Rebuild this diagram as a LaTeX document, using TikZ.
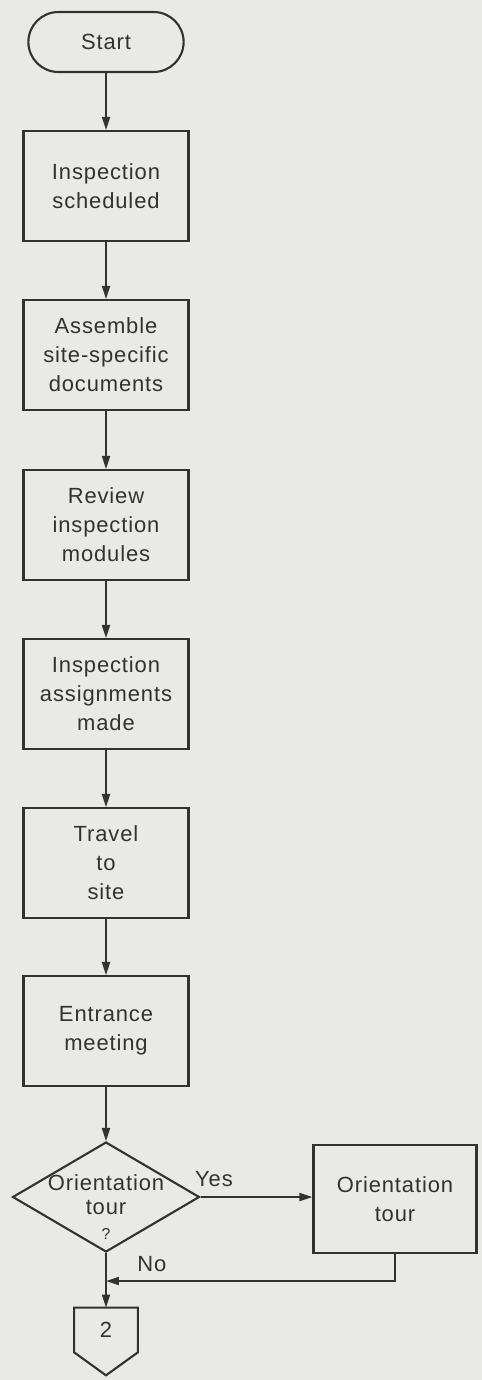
\documentclass[tikz,border=0pt]{standalone}
\usepackage{fontspec}
\setmainfont{Liberation Sans}[LetterSpace=4]
\usetikzlibrary{arrows.meta,positioning,shapes.geometric,shapes.misc,calc}
\definecolor{scanbg}{RGB}{233,233,230}
\definecolor{inkgray}{RGB}{50,50,50}

\begin{document}
\begin{tikzpicture}[
      x=0.02cm, y=-0.02cm,
      every node/.style={font=\fontsize{12.5}{16.5}\selectfont, text=inkgray},
      termbox/.style={
        rounded rectangle, draw=inkgray, line width=1.2pt,
        minimum width=3.34cm, minimum height=1.2cm, align=center
      },
      procbox/.style={
        rectangle, draw=inkgray, line width=1.2pt,
        minimum width=3.3cm, minimum height=2.2cm, align=center
      },
      decbox/.style={
        diamond, draw=inkgray, line width=1.2pt, aspect=1.7, inner sep=0pt,
        minimum width=3.74cm, minimum height=2.2cm, align=center
      },
      offbox/.style={
        inner sep=0pt, minimum width=1.26cm, minimum height=0.88cm
      },
      arr/.style={-{Triangle[length=2.6mm,width=1.6mm]}, line width=1pt, draw=inkgray}
    ]

    % ===== Background of the scanned page =====
    \fill[scanbg] (0,0) rectangle (482,1380);
    \useasboundingbox (0,0) rectangle (482,1380);

    % ===== Main column =====
    \node[termbox] (start) at (106,42) {Start};
    \node[procbox] (sched) at (106,186) {Inspection\\scheduled};
    \node[procbox] (docs) at (106,355) {Assemble\\site-specific\\documents};
    \node[procbox] (modules) at (106,525) {Review\\inspection\\modules};
    \node[procbox] (assign) at (106,694) {Inspection\\assignments\\made};
    \node[procbox] (travel) at (106,863) {Travel\\to\\site};
    \node[procbox] (entr) at (106,1031) {Entrance\\meeting};

    % ===== Decision and side branch =====
    \node[decbox] (ask) at (106,1197) {};
    \node[align=center, font=\fontsize{12.5}{14}\selectfont] (asktxt) at (106,1207)
      {Orientation\\tour\\{\small ?}};
    \node[procbox, minimum width=3.26cm, minimum height=2.16cm] (tour) at (395,1199)
      {Orientation\\tour};

    % ===== Off-page connector =====
    \node[offbox] (conn) at (106,1330) {2};
    \draw[inkgray, line width=1.2pt] (conn.south west) -- (conn.north west)
      -- (conn.north east) -- (conn.south east) -- ($(conn.south)+(0,23)$) -- cycle;
    \coordinate (merge) at (106,1281);

    % ===== Arrows down the column =====
    \draw[arr] (start) -- (sched);
    \draw[arr] (sched) -- (docs);
    \draw[arr] (docs) -- (modules);
    \draw[arr] (modules) -- (assign);
    \draw[arr] (assign) -- (travel);
    \draw[arr] (travel) -- (entr);
    \draw[arr] (entr) -- (ask);

    % ===== Arrows around the decision =====
    \draw[arr] (ask.east) -- (tour.west |- ask.east)
      node[pos=0.12, above=2pt] {Yes};
    \draw[arr] (ask.south) -- (conn.north)
      node[pos=0.2, right=14pt] {No};
    \draw[arr] (tour.south) -- (tour.south |- merge) -- (merge);
  \end{tikzpicture}
\end{document}
